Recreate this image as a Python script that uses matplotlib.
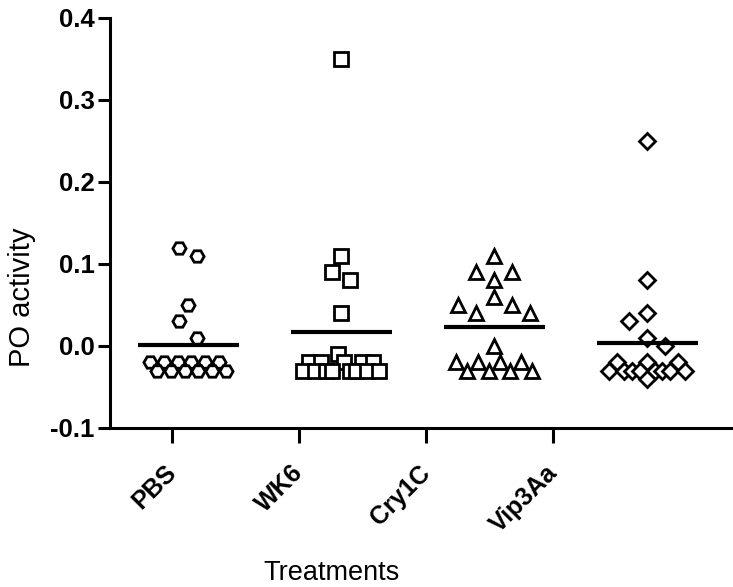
import matplotlib
matplotlib.use("Agg")
import matplotlib.pyplot as plt
import matplotlib.transforms as mtransforms
import numpy as np

plt.rcParams['font.family'] = ['Liberation Sans', 'DejaVu Sans']

# values
groups = ['PBS', 'WK6', 'Cry1C', 'Vip3Aa']
pbs = [0.12, 0.11, 0.05, 0.03, 0.01,
       -0.02, -0.02, -0.02, -0.02, -0.02, -0.02,
       -0.03, -0.03, -0.03, -0.03, -0.03, -0.03]
wk6 = [0.35, 0.11, 0.09, 0.08, 0.04, -0.01,
       -0.02, -0.02, -0.02, -0.02, -0.02,
       -0.03, -0.03, -0.03, -0.03, -0.03, -0.03, -0.03, -0.03]
cry1c = [0.11, 0.09, 0.09, 0.08, 0.06, 0.05, 0.05, 0.04, 0.04, 0.00,
         -0.02, -0.02, -0.02, -0.02,
         -0.03, -0.03, -0.03, -0.03]
vip3aa = [0.25, 0.08, 0.04, 0.03, 0.01, 0.00,
          -0.02, -0.02, -0.02,
          -0.03, -0.03, -0.03, -0.03, -0.03, -0.03, -0.03, -0.03,
          -0.04]
series = [pbs, wk6, cry1c, vip3aa]
markers = ['H', 's', '^', 'D']
msizes = [9.5, 10, 9.5, 8.5]

yticks = [-0.1, 0.0, 0.1, 0.2, 0.3, 0.4]
ytick_labels = ['-0.1', '0.0', '0.1', '0.2', '0.3', '0.4']


def swarm(ax, xc, vals, binw=0.035, sp_max=18, width=76):
    # Prism-like column scatter: points binned in rows, each row spread sideways
    trans = ax.transData
    vals = np.asarray(vals)
    px0, _ = trans.transform((xc, 0))
    offs = np.zeros(len(vals))
    bins = np.floor(vals / binw + 1e-9)
    for b in np.unique(bins):
        idx = np.where(bins == b)[0]
        keys = []
        for li, v in enumerate(sorted(set(vals[idx]), reverse=True)):
            same = idx[vals[idx] == v]
            for r, k in enumerate(same):
                keys.append(((r + 0.5) / len(same), li, k))
        order = [k for _, _, k in sorted(keys)]
        n = len(order)
        sp = sp_max if n == 1 else min(sp_max, width / (n - 1))
        for j, k in enumerate(order):
            offs[k] = (j - (n - 1) / 2) * sp
    xs = [trans.inverted().transform((px0 + o, 0))[0] for o in offs]
    return np.array(xs)


fig = plt.figure(figsize=(7.33, 5.87), dpi=100)
ax = fig.add_axes([0.150, 0.2709, 0.850, 0.6985])
ax.set_xlim(0.49, 4.56)
ax.set_ylim(-0.1, 0.4)

for i, vals in enumerate(series):
    xc = i + 1
    xs = swarm(ax, xc, vals)
    ax.plot(xs, vals, linestyle='none', marker=markers[i], ms=msizes[i],
            mfc='white', mec='black', mew=2, clip_on=False, zorder=3)
    m = np.mean(vals)
    ax.plot([xc - 0.33, xc + 0.33], [m, m], color='black', lw=3, zorder=4,
            solid_capstyle='butt')

for side in ['top', 'right']:
    ax.spines[side].set_visible(False)
for side in ['left', 'bottom']:
    ax.spines[side].set_linewidth(2.2)

ax.set_yticks(yticks)
ax.set_yticklabels(ytick_labels, fontsize=18.5, fontweight='bold')
ax.tick_params(axis='y', length=9, width=2.2, pad=2)

tick_pos = [0.895, 1.725, 2.556, 3.386]
ax.set_xticks(tick_pos)
ax.set_xticklabels(groups, fontsize=18, fontweight='bold', rotation=45,
                   ha='right', va='top', rotation_mode='anchor')
ax.tick_params(axis='x', length=10.5, width=2.2, pad=13)
shift = mtransforms.ScaledTranslation(-8 / 100, 0, fig.dpi_scale_trans)
for lab in ax.get_xticklabels():
    lab.set_transform(lab.get_transform() + shift)

ax.set_xlabel('Treatments', fontsize=19.5)
ax.xaxis.set_label_coords(0.356, -0.322)
ax.set_ylabel('PO activity', fontsize=21)
ax.yaxis.set_label_coords(-0.118, 0.32)

fig.savefig('out.png', dpi=100)
